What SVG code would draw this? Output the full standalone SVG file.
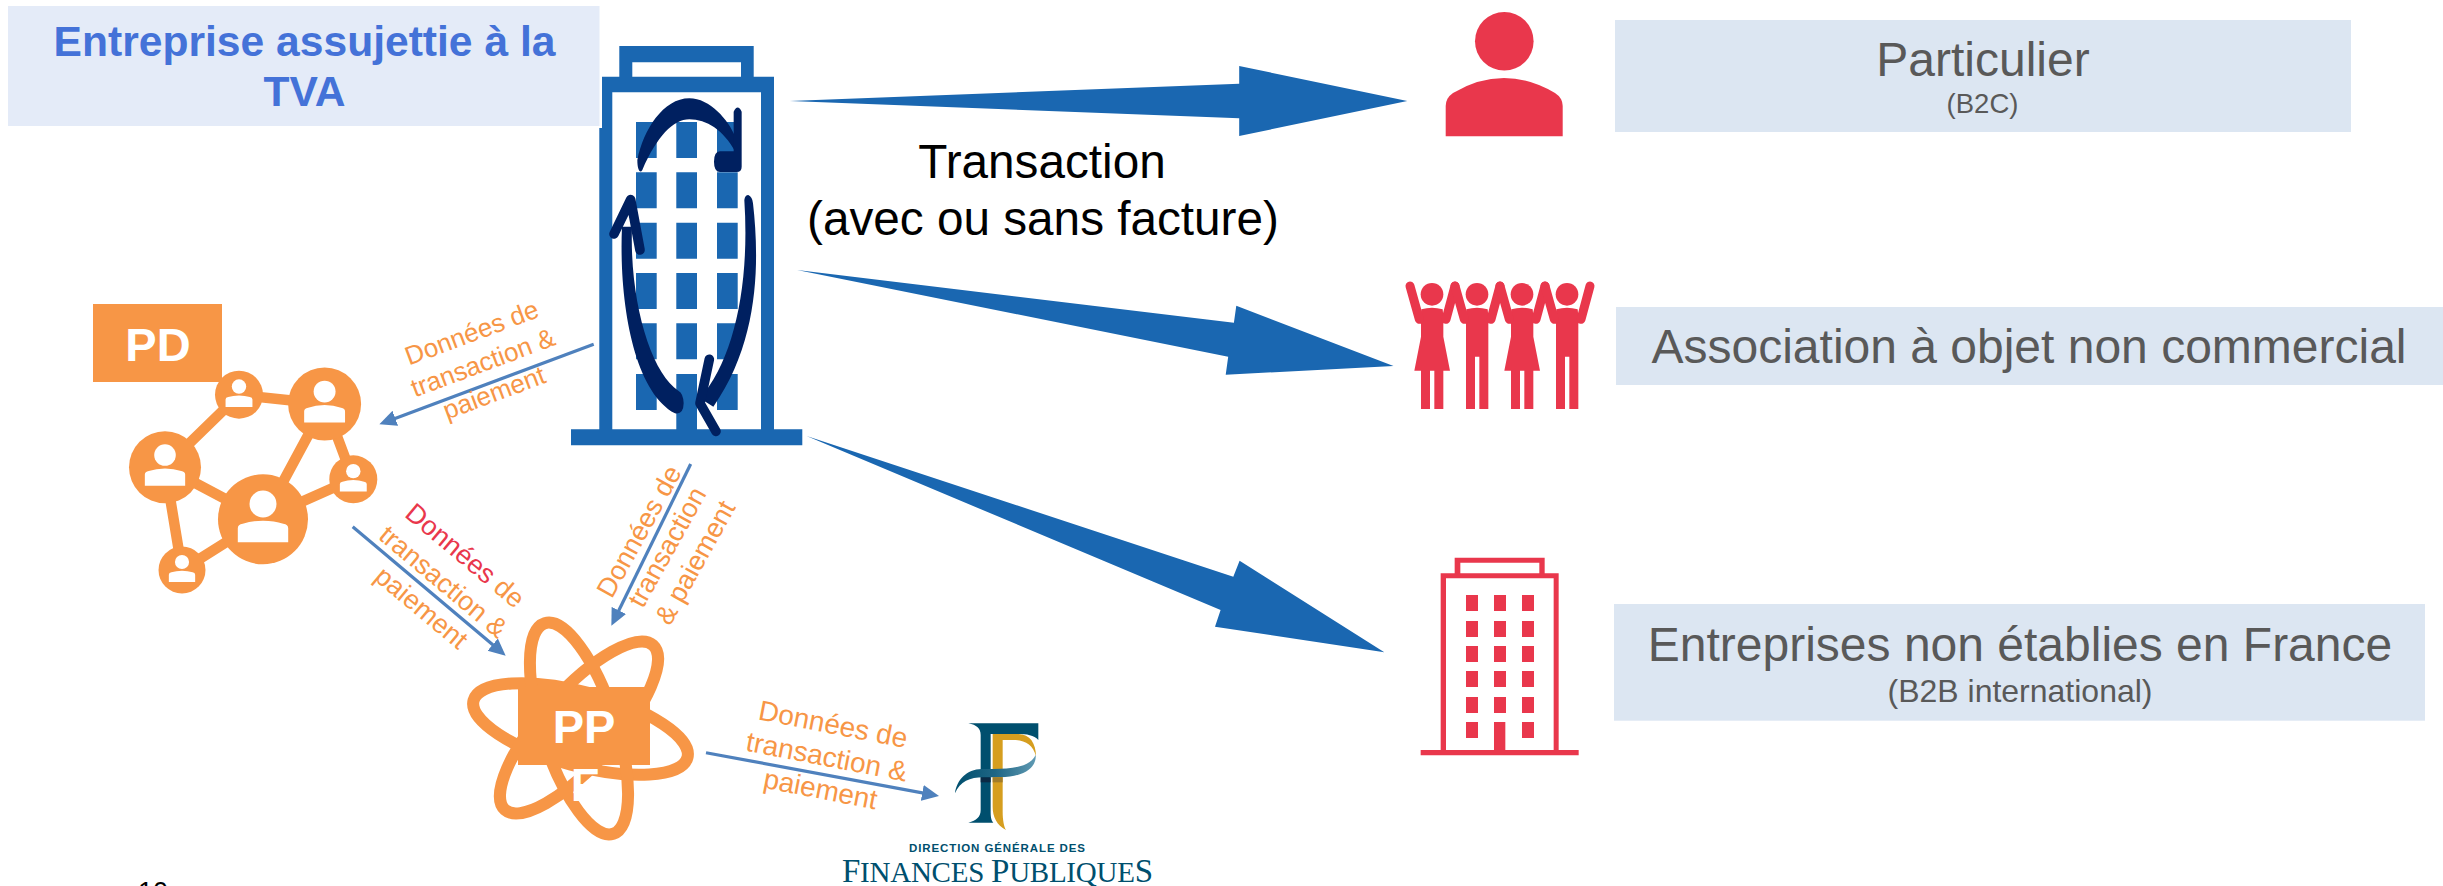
<svg xmlns="http://www.w3.org/2000/svg" width="2443" height="886" viewBox="0 0 2443 886">
<style>
text{font-family:"Liberation Sans",Arial,sans-serif}
.mid{text-anchor:middle}
.blue{fill:#1A67B1}
.red{fill:#E9374C}
.org{fill:#F79646}
.navy{fill:#002060}
.navyl{fill:none;stroke:#002060;stroke-width:29;stroke-linecap:round;stroke-linejoin:round}
.box{fill:#DCE6F2}
.grey{fill:#595959}
.big{font-size:48px}
.small{font-size:27.5px}
.lab{font-size:27px;fill:#F79646;text-anchor:middle}
.wh{fill:#fff;font-size:47px;font-weight:bold;text-anchor:middle}
.edge{stroke:#F79646;stroke-width:10.5;fill:none}
.ring{stroke:#F79646;stroke-width:12;fill:none}
.thin{stroke:#4F81BD;stroke-width:3.2;fill:none;marker-end:url(#ah)}
.arm{stroke:#E9374C;stroke-width:27;stroke-linecap:round;fill:none}
.dg{fill:#004F6E;font-family:"Liberation Serif","Times New Roman",serif}
</style>
<defs>
<marker id="ah" markerUnits="userSpaceOnUse" markerWidth="18" markerHeight="18" refX="11" refY="9" orient="auto"><path d="M0,1 L17,9 L0,17 Z" fill="#4F81BD"/></marker>
<linearGradient id="rib" x1="0" x2="1" y1="0" y2="0"><stop offset="0" stop-color="#004F6E"/><stop offset=".5" stop-color="#1F6685"/><stop offset="1" stop-color="#5F9AB3"/></linearGradient>
<g id="user"><circle cy="-.34" r=".3" fill="#fff"/><path d="M-.56,.51 V.2 Q-.56,.12 -.45,.1 Q-.25,.03 0,.03 Q.25,.03 .45,.1 Q.56,.12 .56,.2 V.51 Z" fill="#fff"/></g>
<g id="woman"><circle cy="883" r="34" class="red"/><path class="red" d="M-32,928 Q0,918 32,928 L36,970 H34 V1010 L54,1112 H34 V1227 H7 V1112 H-6 V1227 H-33 V1112 H-53 L-33,1010 V970 H-36 Z"/><path class="arm" d="M-38,958 L-66,858 M42,958 L69,858"/></g>
<g id="man"><circle cy="883" r="34" class="red"/><path class="red" d="M-32,928 Q0,918 32,928 L36,970 H34 V1227 H7 V1070 H-6 V1227 H-33 V970 H-36 Z"/><path class="arm" d="M-38,958 L-66,858 M42,958 L69,858"/></g>
</defs>
<rect width="2443" height="886" fill="#fff"/>

<g id="building-main">
<path class="blue" fill-rule="evenodd" d="M619.3,46 H753.7 V76.7 H774 V429.3 H802.3 V445.3 H571 V429.3 H599.3 V76.7 H619.3 Z M632.3,62.3 V76.7 H741 V62.3 Z M612.3,92.3 V429.3 H676.3 V374 H697 V429.3 H761 V92.3 Z"/>
<path class="blue" d="M636,122h20.7v36H636zM676.3,122H697v36h-20.7zM717,122h20.7v36H717zM636,172.3h20.7v36H636zM676.3,172.3H697v36h-20.7zM717,172.3h20.7v36H717zM636,222.7h20.7v36H636zM676.3,222.7H697v36h-20.7zM717,222.7h20.7v36H717zM636,273h20.7v36H636zM676.3,273H697v36h-20.7zM717,273h20.7v36H717zM636,323.3h20.7v36H636zM676.3,323.3H697v36h-20.7zM717,323.3h20.7v36H717zM636,374h20.7v36H636zM717,374h20.7v36H717z"/>
<g transform="translate(560 20) scale(.33333)">
<path class="navy" d="M232,420 C250,330 310,235 388,235 C450,235 505,300 526,350 L526,395 C490,330 440,298 388,298 C340,298 290,350 247,450 C240,462 232,450 232,420 Z"/>
<path class="navy" d="M521,275 Q533,250 545,275 L545,440 Q545,456 530,456 L480,456 Q462,456 462,425 Q462,395 480,394 L521,394 Z"/>
<path class="navy" d="M553,540 Q555,525 565,525 Q577,530 579,550 C598,720 600,960 460,1160 L420,1135 C520,1020 570,800 553,540 Z"/>
<path class="navyl" d="M448,1018 L420,1150 L468,1234"/>
<path class="navy" d="M186,620 C176,850 222,1115 345,1180 Q370,1185 371,1150 Q370,1120 355,1112 C275,1060 208,850 216,620 Z"/>
<path class="navyl" d="M162,642 L212,539 L240,690"/>
</g>
</g>

<g id="title">
<rect x="8" y="6" width="594" height="122" fill="#fff"/>
<rect x="8" y="6" width="591.5" height="120" fill="#E4EBF8"/>
<text class="mid" x="304.5" y="56" font-size="42.6" font-weight="bold" fill="#4472D8">Entreprise assujettie à la</text>
<text class="mid" x="304.5" y="106" font-size="42.6" font-weight="bold" fill="#4472D8">TVA</text>
</g>

<g id="connectors">
<path class="blue" d="M789.8,101 L1239.2,83.7 V66 L1407.3,101 L1239.2,136 V118.3 Z"/>
<path class="blue" d="M797.1,270 L1233.9,322.7 L1236.3,305.7 L1393.5,366 L1225.7,374.7 L1228.2,356.7 Z"/>
<path class="blue" d="M806.6,436 L1233.3,576.7 L1239.6,560.7 L1384.3,652.3 L1215,626.7 L1220.6,610 Z"/>
<line class="thin" x1="593.7" y1="344.3" x2="385" y2="422.2"/>
<line class="thin" x1="352.7" y1="526.7" x2="501.1" y2="651.8"/>
<line class="thin" x1="690.7" y1="464" x2="614" y2="620.3"/>
<line class="thin" x1="706" y1="752.7" x2="933.1" y2="794.9"/>
</g>

<g id="label-transaction">
<text class="mid" x="1042" y="177.7" font-size="47.7">Transaction</text>
<text class="mid" x="1043" y="235" font-size="47.7">(avec ou sans facture)</text>
</g>

<g id="node-pd">
<g class="edge"><path d="M239,395 L325,404 M239,395 L165,467 M165,467 L263,519 M165,467 L182,570 M325,404 L263,519 M325,404 L353,479 M263,519 L353,479 M263,519 L182,570"/></g>
<g class="org">
<circle cx="239" cy="394.7" r="24"/><circle cx="324.6" cy="404" r="36.5"/><circle cx="165" cy="467.3" r="36"/><circle cx="263" cy="519.3" r="45"/><circle cx="353.3" cy="479.3" r="24"/><circle cx="182" cy="570" r="23.5"/>
</g>
<use href="#user" transform="translate(239 394.7) scale(24)"/>
<use href="#user" transform="translate(324.6 404) scale(36.5)"/>
<use href="#user" transform="translate(165 467.3) scale(36)"/>
<use href="#user" transform="translate(263 519.3) scale(45)"/>
<use href="#user" transform="translate(353.3 479.3) scale(24)"/>
<use href="#user" transform="translate(182 570) scale(23.5)"/>
<rect class="org" x="93" y="304" width="129" height="78"/>
<text class="wh" x="158" y="360.7">PD</text>
</g>

<g id="node-ppf">
<g class="ring">
<ellipse cx="580.5" cy="729" rx="110.7" ry="37" transform="rotate(15 580.5 729)"/>
<ellipse cx="579" cy="728.5" rx="110.7" ry="37" transform="rotate(72 579 728.5)"/>
<ellipse cx="579" cy="727.5" rx="110.7" ry="37" transform="rotate(132 579 727.5)"/>
</g>
<rect class="org" x="518" y="687" width="132" height="78"/>
<text class="wh" x="584" y="743.3">PP</text>
<text class="wh" x="585" y="801">F</text>
</g>

<g id="label-pd" transform="translate(486 371) rotate(-20.5)" style="font-size:26px">
<text class="lab" y="-32" style="font-size:26px">Données de</text>
<text class="lab" style="font-size:26px">transaction &amp;</text>
<text class="lab" y="32" style="font-size:26px">paiement</text>
</g>
<g id="label-pd-ppf" transform="translate(437.5 588.6) rotate(40)">
<text class="lab" y="-34"><tspan fill="#E9374C">Données</tspan> de</text>
<text class="lab">transaction &amp;</text>
<text class="lab" y="34">paiement</text>
</g>
<g id="label-ent-ppf" transform="translate(675 551.4) rotate(-61)">
<text class="lab" y="-32">Données de</text>
<text class="lab">transaction</text>
<text class="lab" y="32">&amp; paiement</text>
</g>
<g id="label-ppf-dgfip" transform="translate(825 766) rotate(11)">
<text class="lab" y="-33" style="font-size:28px">Données de</text>
<text class="lab" style="font-size:28px">transaction &amp;</text>
<text class="lab" y="33" style="font-size:28px">paiement</text>
</g>

<g id="node-dgfip">
<g transform="translate(780 660) scale(.33333)">
<path fill="#D69E1F" d="M638,222 H715 C750,222 768,250 768,290 C760,255 735,240 700,240 H668 V455 C668,480 672,500 678,510 C650,495 638,470 638,440 Z"/>
<path fill="#004F6E" d="M565,190 H775 V240 C762,225 740,222 715,222 H632 V455 C632,475 635,482 640,488 H565 C590,482 602,470 602,450 V225 C602,205 590,195 565,190 Z"/>
<path fill="url(#rib)" d="M525,400 C530,360 560,328 605,327 H640 C700,327 750,320 767,285 C770,315 745,350 660,352 H610 C570,352 540,365 525,400 Z"/>
<rect x="602" y="352" width="30" height="15" fill="#0B2A45"/>
<rect x="638" y="352" width="30" height="15" fill="#A17C2A"/>
</g>
<text class="dg" x="909" y="852" font-size="11.5" font-weight="bold" textLength="176" style="font-family:'Liberation Sans',Arial,sans-serif">DIRECTION GÉNÉRALE DES</text>
<text class="dg" x="842" y="881.7" font-size="29" textLength="311"><tspan font-size="33">F</tspan>INANCES <tspan font-size="33">P</tspan>UBLIQUE<tspan font-size="33">S</tspan></text>
</g>

<g id="icon-particulier">
<circle class="red" cx="1504.3" cy="41.3" r="29.3"/>
<path class="red" d="M1445.7,136.3 V106 Q1445.7,98 1453,93 Q1478,78 1504,78 Q1530,78 1555,93 Q1562.7,98 1562.7,106 V136.3 Z"/>
</g>
<g id="icon-association" transform="translate(1380 0) scale(.33333)">
<use href="#woman" x="156"/><use href="#man" x="291"/><use href="#woman" x="426"/><use href="#man" x="561"/>
</g>
<g id="icon-entreprise" transform="translate(1400 540) scale(.33333)">
<path class="red" fill-rule="evenodd" d="M164,53 H434 V100 H476 V630 H536 V646 H62 V630 H122 V100 H164 Z M181,68 V100 H418 V68 Z M138,115 V630 H282 V546 H316 V630 H461 V115 Z"/>
<path class="red" d="M198,165h36v48h-36zM282,165h36v48h-36zM366,165h36v48h-36zM198,243h36v48h-36zM282,243h36v48h-36zM366,243h36v48h-36zM198,318h36v48h-36zM282,318h36v48h-36zM366,318h36v48h-36zM198,393h36v48h-36zM282,393h36v48h-36zM366,393h36v48h-36zM198,471h36v48h-36zM282,471h36v48h-36zM366,471h36v48h-36zM198,546h36v48h-36zM366,546h36v48h-36z"/>
</g>

<g id="box-particulier">
<rect class="box" x="1615" y="20" width="736" height="112"/>
<text class="mid grey big" x="1983" y="76">Particulier</text>
<text class="mid grey small" x="1982.5" y="112.7">(B2C)</text>
</g>
<g id="box-association">
<rect class="box" x="1616" y="307" width="827" height="78"/>
<text class="mid grey big" x="2029" y="362.7">Association à objet non commercial</text>
</g>
<g id="box-entreprises">
<rect class="box" x="1614" y="604" width="811" height="116.7"/>
<text class="mid grey big" x="2020" y="660.7">Entreprises non établies en France</text>
<text class="mid grey" font-size="32" x="2020" y="701.7">(B2B international)</text>
</g>
<text id="page-number" x="138" y="901" font-size="27" fill="#000">10</text>
</svg>
